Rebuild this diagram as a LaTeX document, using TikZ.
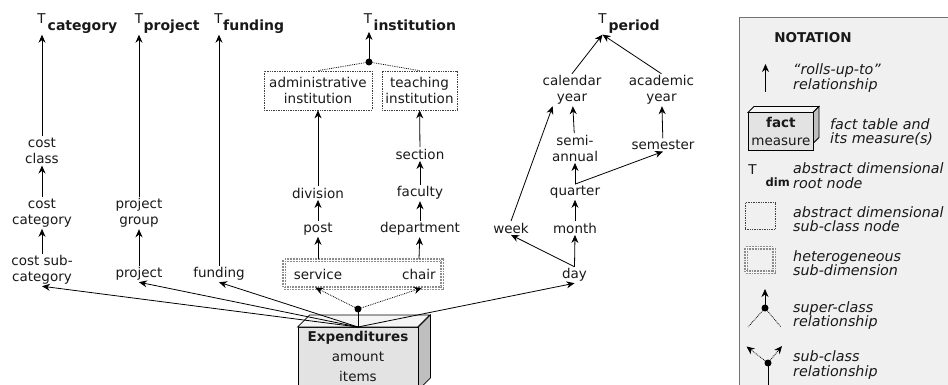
\documentclass[tikz,border=0pt]{standalone}
\usepackage{fontspec}
\setmainfont{DejaVu Sans}
\usetikzlibrary{arrows.meta}
\begin{document}
\begin{tikzpicture}[x=1pt,y=-1pt,
  every node/.style={font=\fontsize{13.5}{16}\selectfont, inner sep=1.5pt, align=center, text=black!90},
  hdr/.style={font=\fontsize{14}{16}\selectfont\bfseries, anchor=base west, inner sep=1pt},
  tee/.style={anchor=base, inner sep=0pt},
  rel/.style={-{Stealth[length=8pt,width=7pt]}, line width=0.8pt},
  plainln/.style={line width=0.8pt},
  subrel/.style={-{Stealth[length=8pt,width=7pt]}, line width=0.8pt, densely dotted},
  supl/.style={line width=0.8pt, densely dotted},
  absbox/.style={draw=black!75, densely dotted, line width=0.7pt, inner sep=1pt},
  hetbox/.style={draw=black!45, densely dotted, line width=1.8pt, double=white, double distance=0.6pt, inner sep=0pt},
  dotnode/.style={circle, fill=black, inner sep=0pt, minimum size=7pt},
  legtxt/.style={font=\fontsize{14.3}{14.5}\selectfont\itshape, anchor=west, align=left, inner sep=0pt},
  factbox/.style={draw=black, line width=0.8pt, fill=black!11},
]
\useasboundingbox (0,0) rectangle (948,385);
\clip (0,0) rectangle (948,385);

% ---------- roots ----------
\node[tee] (tcatT) at (41.5,24) {T};
\node[hdr] (tcat) at (46.5,30.5) {category};
\node[tee] (tprojT) at (139,24) {T};
\node[hdr] (tproj) at (142.5,30.5) {project};
\node[tee] (tfundT) at (218.5,24) {T};
\node[hdr] (tfund) at (222,30.5) {funding};
\node[tee] (tinstT) at (368,24) {T};
\node[hdr] (tinst) at (372.5,30.5) {institution};
\node[tee] (tperT) at (602.5,24) {T};
\node[hdr] (tper) at (607.5,30.5) {period};

% ---------- category ----------
\node (costclass) at (42,151) {cost\\class};
\node (costcat) at (42,213) {cost\\category};
\node (costsub) at (42,270) {cost sub-\\category};
\draw[rel] (costsub) -- (costcat);
\draw[rel] (costcat) -- (costclass);
\draw[rel] (costclass.north) -- (costclass.north |- tcat.south);

% ---------- project / funding ----------
\node (projgroup) at (139,213) {project\\group};
\node (project) at (139,274) {project};
\draw[rel] (project) -- (projgroup);
\draw[rel] (projgroup.north) -- (projgroup.north |- tproj.south);
\node (funding) at (219,274) {funding};
\draw[rel] (funding.north) -- (funding.north |- tfund.south);

% ---------- institution ----------
\node[absbox, minimum width=108, minimum height=39] (admin) at (318,90.5) {administrative\\institution};
\node[absbox, minimum width=75, minimum height=39] (teach) at (419.5,90.5) {teaching\\institution};
\node[dotnode] (idot) at (369,62) {};
\draw[rel] (idot.center) -- (idot.center |- tinst.south);
\draw[supl] (idot.center) -- (admin.north);
\draw[supl] (idot.center) -- (teach.north);

\node (division) at (318,193) {division};
\node (post) at (318,229) {post};
\node (section) at (420,154) {section};
\node (faculty) at (420,193) {faculty};
\node (department) at (420,229) {department};
\node[hetbox, minimum width=158, minimum height=28] (hetero) at (363,274) {};
\node (service) at (318,274) {service};
\node (chair) at (419,274) {chair};

\draw[rel] (hetero.north -| service) -- (post);
\draw[rel] (post) -- (division);
\draw[rel] (division) -- (admin);
\draw[rel] (hetero.north -| chair) -- (department);
\draw[rel] (department) -- (faculty);
\draw[rel] (faculty) -- (section);
\draw[rel] (section) -- (teach);

% ---------- period ----------
\node (calyear) at (572,90) {calendar\\year};
\node (acadyear) at (661.5,90) {academic\\year};
\node (semi) at (575,148) {semi-\\annual};
\node (semester) at (663,145) {semester};
\node (quarter) at (575,192) {quarter};
\node (week) at (511,228) {week};
\node (month) at (575,228) {month};
\node (day) at (574.5,275) {day};

\draw[rel] (calyear.north) -- (tperT.south |- tper.south);
\draw[rel] (acadyear.north) -- (tperT.south |- tper.south);
\draw[rel] (semi) -- (calyear);
\draw[rel] (semester) -- (acadyear);
\draw[rel] (quarter.north) -- (semi.south);
\draw[rel] (quarter.north) -- (semester.south);
\draw[rel] (month) -- (quarter);
\draw[rel] (day.north) -- (month.south);
\draw[rel] (day.north) -- (week.south);
\draw[rel] (week.north) -- (calyear.220);

% ---------- fact ----------
\node[factbox, minimum width=120, anchor=north, inner sep=4pt, font=\fontsize{13.5}{20}\selectfont] (exp) at (358,327) {\textbf{Expenditures}\\amount\\items\\[-2pt]};
\draw[line width=0.8pt, fill=black!4] (exp.north west) -- ++(12,-12) -- ++(120,0) -- ++(-12,12) -- cycle;
\draw[line width=0.8pt, fill=black!25] (exp.north east) -- ++(12,-12) -- ++(0,63) -- ++(-12,12) -- cycle;

\node[dotnode] (fdot) at (358,309) {};
\draw[plainln] (fdot.center) -- (exp.north);
\draw[subrel, shorten >=-3pt] (fdot.center) -- (hetero.south -| service);
\draw[subrel, shorten >=-3pt] (fdot.center) -- (hetero.south -| chair);

\draw[rel] (exp.north) -- (costsub.south);
\draw[rel] (exp.north) -- (project.south);
\draw[rel] (exp.north) -- (funding.south);
\draw[rel] (exp.north) -- (day.south);

% ---------- legend ----------
\draw[fill=black!6, draw=black!55, line width=0.8pt] (739,17) rectangle (975,400);
\node[font=\fontsize{13.5}{16}\selectfont\bfseries] (nothead) at (813,38) {NOTATION};

\coordinate (la1) at (765.5,92);
\coordinate (la2) at (765.5,64);
\draw[rel] (la1) -- (la2);
\node[legtxt] (lt1) at (793,78) {“rolls-up-to”\\relationship};

\draw[line width=0.8pt, fill=black!4] (748,112.5) -- ++(6,-6) -- ++(65,0) -- ++(-6,6) -- cycle;
\draw[line width=0.8pt, fill=black!25] (813,112.5) -- ++(6,-6) -- ++(0,31) -- ++(-6,6) -- cycle;
\node[factbox, minimum width=65, minimum height=37.5, anchor=north west, inner sep=0pt, font=\fontsize{13.5}{18}\selectfont] (lfact) at (748,112.5) {\textbf{fact}\\measure};
\node[legtxt] (lt2) at (830,132) {fact table and\\its measure(s)};

\node[tee] (ldimT) at (752.5,175) {T};
\node[font=\fontsize{11.5}{14}\selectfont\bfseries, anchor=base west, inner sep=0pt] (ldim) at (765.5,186) {dim};
\node[legtxt] (lt3) at (793,175.5) {abstract dimensional\\root node};

\node[absbox, minimum width=30, minimum height=26.5, inner sep=0pt] (lbox1) at (760,216) {};
\node[legtxt] (lt4) at (793,219) {abstract dimensional\\sub-class node};

\node[hetbox, minimum width=28, minimum height=24.5, inner sep=0pt] (lbox2) at (760,260) {};
\node[legtxt] (lt5) at (793,263) {heterogeneous\\sub-dimension};

\node[dotnode] (ldot1) at (765,308) {};
\coordinate (ls1) at (765,289);
\coordinate (ls2) at (748,327);
\coordinate (ls3) at (781,327);
\draw[rel] (ldot1.center) -- (ls1);
\draw[supl] (ldot1.center) -- (ls2);
\draw[supl] (ldot1.center) -- (ls3);
\node[legtxt] (lt6) at (793,315.5) {super-class\\relationship};

\node[dotnode] (ldot2) at (768,363) {};
\coordinate (lb1) at (746.5,346.5);
\coordinate (lb2) at (782,346);
\coordinate (lb3) at (768,392);
\draw[subrel] (ldot2.center) -- (lb1);
\draw[subrel] (ldot2.center) -- (lb2);
\draw[plainln] (ldot2.center) -- (lb3);
\node[legtxt] (lt7) at (793,365) {sub-class\\relationship};
\end{tikzpicture}
\end{document}
